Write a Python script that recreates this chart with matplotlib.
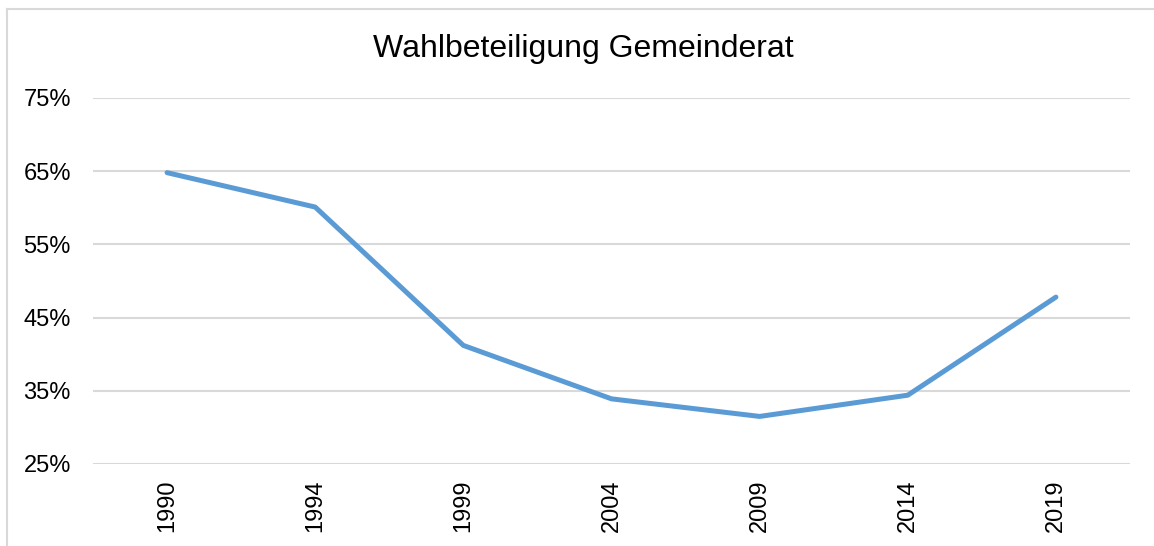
import matplotlib
matplotlib.use("Agg")
import matplotlib.pyplot as plt
from matplotlib.lines import Line2D

# data
years = ["1990", "1994", "1999", "2004", "2009", "2014", "2019"]
turnout = [64.8, 60.1, 41.2, 33.9, 31.5, 34.4, 47.8]
y_ticks = [25, 35, 45, 55, 65, 75]

plt.rcParams['font.family'] = ['Liberation Sans', 'DejaVu Sans']

fig = plt.figure(figsize=(11.54, 5.46), dpi=100)
ax = fig.add_axes([93 / 1154, 1 - 464 / 546, (1130 - 93) / 1154, (464 - 98) / 546])

x = list(range(len(years)))
ax.plot(x, turnout, color='#5B9BD5', linewidth=3.6, solid_capstyle='round',
        solid_joinstyle='round', zorder=3)

ax.set_xlim(-0.5, len(years) - 0.5)
ax.set_ylim(25, 75)
ax.set_yticks(y_ticks)
ax.set_yticklabels([f"{v}%" for v in y_ticks])
ax.set_xticks(x)
ax.set_xticklabels(years, rotation=90)
ax.tick_params(axis='y', length=0, pad=16, labelsize=17, colors='black')
ax.tick_params(axis='x', length=0, pad=11, labelsize=17, colors='black')

ax.grid(axis='y', color='#D9D9D9', linewidth=1.5)
ax.set_axisbelow(True)
for s in ax.spines.values():
    s.set_visible(False)

fig.text(583 / 1154, 1 - 57 / 546, "Wahlbeteiligung Gemeinderat", fontsize=23,
         ha='center', va='baseline')

# light frame of the chart area (top and left edges visible)
fig.add_artist(Line2D([7 / 1154, 1], [1 - 8.5 / 546, 1 - 8.5 / 546],
                      color='#D9D9D9', linewidth=1.5, transform=fig.transFigure))
fig.add_artist(Line2D([7 / 1154, 7 / 1154], [0, 1 - 8.5 / 546],
                      color='#D9D9D9', linewidth=1.5, transform=fig.transFigure))

fig.savefig("out.png", dpi=100, facecolor='white')
